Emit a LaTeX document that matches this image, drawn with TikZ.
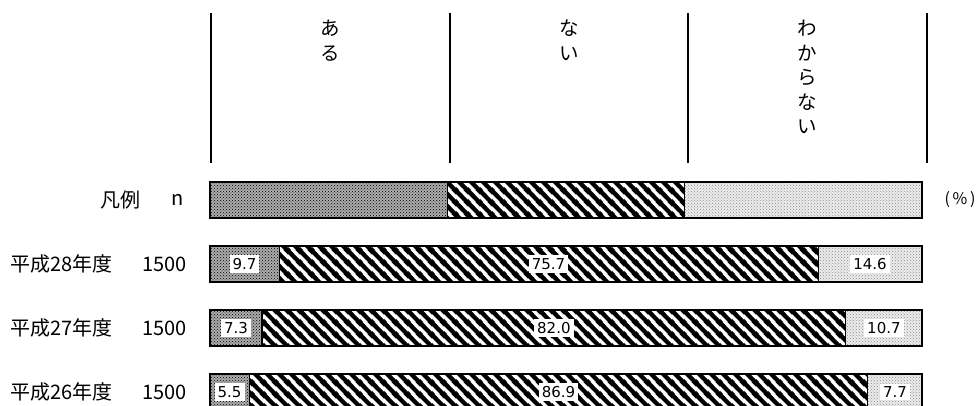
\documentclass[tikz,border=0pt]{standalone}
\usepackage{fontspec}
\setmainfont{Noto Sans CJK JP}
\newfontfamily\numfont{DejaVu Sans}
\usetikzlibrary{patterns,patterns.meta}

\tikzdeclarepattern{
  name=widestripes,
  type=uncolored,
  bottom left={(0pt,0pt)},
  top right={(12pt,12pt)},
  tile size={(12pt,12pt)},
  code={
    \draw[line width=4.6pt] (-6pt,18pt) -- (18pt,-6pt);
    \draw[line width=4.6pt] (-6pt,6pt) -- (6pt,-6pt);
    \draw[line width=4.6pt] (6pt,18pt) -- (18pt,6pt);
  }
}

\tikzset{
  segA/.style={draw, line width=1.1pt, preaction={fill=gray!65}, pattern=crosshatch dots, pattern color=black},
  segB/.style={draw, line width=1.1pt, preaction={fill=white}, pattern=widestripes, pattern color=black},
  segC/.style={draw, line width=1.1pt, preaction={fill=gray!15}, pattern=crosshatch dots, pattern color=gray!90},
  rowlab/.style={font=\fontsize{20}{22}\selectfont, inner sep=0pt},
  headlab/.style={font=\fontsize{19.5}{24.5}\selectfont, align=center, anchor=north, inner sep=0pt},
  vallab/.style={fill=white, inner sep=3pt, font=\numfont\fontsize{15}{17}\selectfont},
  divider/.style={line width=2pt}
}

\begin{document}
\begin{tikzpicture}[x=1pt, y=-1pt]
    \useasboundingbox (0,0) rectangle (978,406);

    % Column header
    \coordinate (h0) at (211,13);
    \coordinate (h1) at (449.7,13);
    \coordinate (h2) at (688.3,13);
    \coordinate (h3) at (927,13);
    \foreach \h in {h0,h1,h2,h3}
        \draw[divider] (\h) -- ++(0,150);

    \node (aru) [headlab] at (330,20) {あ\\る};
    \node (nai) [headlab] at (569,20) {な\\い};
    \node (wakaranai) [headlab] at (807.6,20) {わ\\か\\ら\\な\\い};

    % Legend bar
    \draw[segA] (210,182) rectangle (447.3,218);
    \draw[segB] (447.3,182) rectangle (684.7,218);
    \draw[segC] (684.7,182) rectangle (922,218);
    \node (hanrei) [rowlab, anchor=east] at (141,200) {凡例};
    \node (nlab) [rowlab] at (178,200) {n};
    \node (pct) [rowlab, font=\fontsize{16}{18}\selectfont] at (960,200) {(\,\%\,)};

    % Data rows
    \foreach \yr/\va/\vb/\vc/\ty in {28/9.7/75.7/14.6/246, 27/7.3/82.0/10.7/310, 26/5.5/86.9/7.7/374} {
        \pgfmathsetmacro\xa{210+7.12*\va}
        \pgfmathsetmacro\xb{\xa+7.12*\vb}
        \draw[segA] (210,\ty) rectangle (\xa,\ty+36);
        \draw[segB] (\xa,\ty) rectangle (\xb,\ty+36);
        \draw[segC] (\xb,\ty) rectangle (922,\ty+36);

        \node (year\yr) [rowlab, anchor=west] at (10,\ty+18) {平成\yr 年度};
        \node (num\yr) [rowlab, anchor=east] at (187,\ty+18) {1500};

        \node (a\yr) [vallab] at ({(210+\xa)/2},\ty+18) {\va};
        \node (b\yr) [vallab] at ({(\xa+\xb)/2},\ty+18) {\vb};
        \node (c\yr) [vallab] at ({(\xb+922)/2},\ty+18) {\vc};
    }
\end{tikzpicture}
\end{document}
